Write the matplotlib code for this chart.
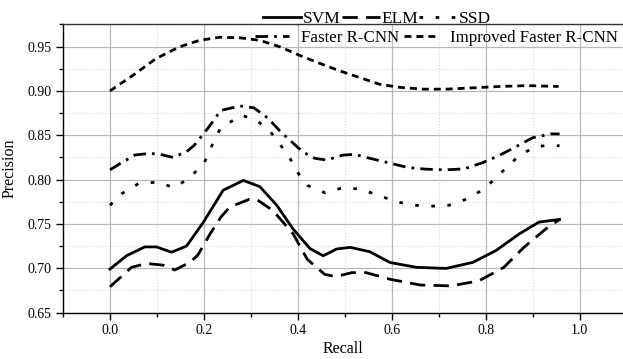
import matplotlib
matplotlib.use('Agg')
import matplotlib.pyplot as plt
from matplotlib.ticker import MultipleLocator, FormatStrFormatter

plt.rcParams['font.family'] = ['Liberation Serif', 'DejaVu Serif']

# ─── 데이터 ───────────────────────────────────────────
svm_x = [0.0, 0.035, 0.074, 0.099, 0.131, 0.163, 0.199, 0.241, 0.284, 0.319, 0.355,
         0.39, 0.426, 0.454, 0.482, 0.511, 0.553, 0.596, 0.652, 0.715, 0.772, 0.821,
         0.871, 0.913, 0.957]
svm_y = [0.699, 0.714, 0.724, 0.724, 0.718, 0.725, 0.752, 0.788, 0.799, 0.792, 0.771,
         0.744, 0.722, 0.714, 0.7216, 0.7235, 0.7186, 0.7064, 0.701, 0.6997, 0.7065,
         0.7197, 0.7386, 0.752, 0.755]

elm_x = [0.0, 0.046, 0.078, 0.113, 0.138, 0.17, 0.187, 0.213, 0.236, 0.255, 0.296,
         0.312, 0.347, 0.39, 0.42, 0.457, 0.481, 0.515, 0.545, 0.596, 0.661, 0.725,
         0.785, 0.838, 0.881, 0.927, 0.957]
elm_y = [0.679, 0.701, 0.7053, 0.7034, 0.698, 0.7065, 0.7148, 0.7386, 0.7576, 0.769,
         0.7776, 0.7776, 0.765, 0.7386, 0.710, 0.693, 0.6906, 0.695, 0.695, 0.6875,
         0.681, 0.680, 0.6856, 0.7008, 0.7235, 0.744, 0.755]

ssd_x = [0.0, 0.025, 0.061, 0.099, 0.137, 0.167, 0.2, 0.214, 0.235, 0.28, 0.311,
         0.339, 0.363, 0.383, 0.40, 0.42, 0.458, 0.497, 0.535, 0.572, 0.61, 0.647,
         0.685, 0.722, 0.757, 0.789, 0.815, 0.842, 0.869, 0.904, 0.94, 0.957]
ssd_y = [0.771, 0.784, 0.7955, 0.797, 0.791, 0.801, 0.818, 0.835, 0.858, 0.8726,
         0.867, 0.8557, 0.839, 0.824, 0.8076, 0.7935, 0.785, 0.791, 0.789, 0.782,
         0.775, 0.771, 0.770, 0.771, 0.7776, 0.787, 0.7985, 0.8125, 0.826, 0.837,
         0.839, 0.838]

frcnn_x = [0.0, 0.028, 0.053, 0.085, 0.106, 0.134, 0.163, 0.18, 0.208, 0.236, 0.277,
           0.306, 0.337, 0.363, 0.39, 0.411, 0.436, 0.461, 0.496, 0.521, 0.553, 0.592,
           0.634, 0.673, 0.715, 0.754, 0.793, 0.828, 0.864, 0.899, 0.938, 0.957]
frcnn_y = [0.811, 0.820, 0.8277, 0.8295, 0.8285, 0.825, 0.8314, 0.839, 0.8576, 0.878,
           0.883, 0.881, 0.869, 0.854, 0.841, 0.831, 0.824, 0.822, 0.8276, 0.8285,
           0.824, 0.819, 0.8136, 0.8117, 0.811, 0.812, 0.819, 0.827, 0.837, 0.847,
           0.8515, 0.8515]

imp_x = [0.0, 0.05, 0.098, 0.148, 0.19, 0.233, 0.276, 0.319, 0.362, 0.404, 0.447,
         0.489, 0.532, 0.574, 0.617, 0.667, 0.716, 0.773, 0.83, 0.887, 0.955]
imp_y = [0.90, 0.918, 0.9365, 0.9497, 0.957, 0.9605, 0.960, 0.957, 0.9497, 0.940,
         0.931, 0.9226, 0.915, 0.9075, 0.904, 0.902, 0.902, 0.9035, 0.905, 0.906, 0.905]

W, H = 623, 359
fig = plt.figure(figsize=(W / 100, H / 100), dpi=100, facecolor='white')
ax = fig.add_axes([63 / W, (H - 312.5) / H, 1 - 63 / W, (312.5 - 24) / H])

LW = 2.0
l1, = ax.plot(svm_x, svm_y, color='black', lw=LW, ls='-', label='SVM')
l2, = ax.plot(elm_x, elm_y, color='black', lw=LW, dashes=(5.5, 3.0), label='ELM')
l3, = ax.plot(ssd_x, ssd_y, color='black', lw=LW, dashes=(1.3, 4.5), label='SSD')
l4, = ax.plot(frcnn_x, frcnn_y, color='black', lw=LW, dashes=(4.5, 2.2, 1.0, 2.2),
              label='Faster R-CNN')
l5, = ax.plot(imp_x, imp_y, color='black', lw=LW, dashes=(2.5, 1.8),
              label='Improved Faster R-CNN')

ax.set_xlim(-0.1, 1.092)
ax.set_ylim(0.65, 0.9755)
ax.xaxis.set_major_locator(MultipleLocator(0.2))
ax.xaxis.set_minor_locator(MultipleLocator(0.1))
ax.yaxis.set_major_locator(MultipleLocator(0.05))
ax.yaxis.set_minor_locator(MultipleLocator(0.025))
ax.xaxis.set_major_formatter(FormatStrFormatter('%.1f'))
ax.yaxis.set_major_formatter(FormatStrFormatter('%.2f'))

ax.grid(which='major', color='#b8b8b8', lw=0.9, ls='-')
ax.grid(which='minor', color='#d8d8d8', lw=0.8, ls=':')
ax.set_axisbelow(True)
ax.spines['right'].set_visible(False)
for s in ['left', 'bottom', 'top']:
    ax.spines[s].set_linewidth(1.0)
ax.spines['top'].set_color('#333333')
ax.tick_params(which='major', direction='out', length=5, width=1, labelsize=10, pad=3)
ax.tick_params(which='minor', direction='out', length=3, width=1)
ax.tick_params(top=False, right=False, which='both')

ax.set_xlabel('Recall', fontsize=11.5, labelpad=3)
ax.set_ylabel('Precision', fontsize=11.5, labelpad=7)

# 범례 두 줄
leg1 = fig.legend(handles=[l1, l2, l3], loc='center left', ncol=3, frameon=False,
                  bbox_to_anchor=(263 / W, 1 - 18.5 / H), borderpad=0, borderaxespad=0,
                  fontsize=12.5, handlelength=2.2, handletextpad=0.1, columnspacing=0.05)
leg2 = fig.legend(handles=[l4, l5], loc='center left', ncol=2, frameon=False,
                  bbox_to_anchor=(255 / W, 1 - 37.5 / H), borderpad=0, borderaxespad=0,
                  fontsize=12.2, handlelength=2.0, handletextpad=0.7, columnspacing=0.3)

fig.savefig('out.png', dpi=100, facecolor='white')
